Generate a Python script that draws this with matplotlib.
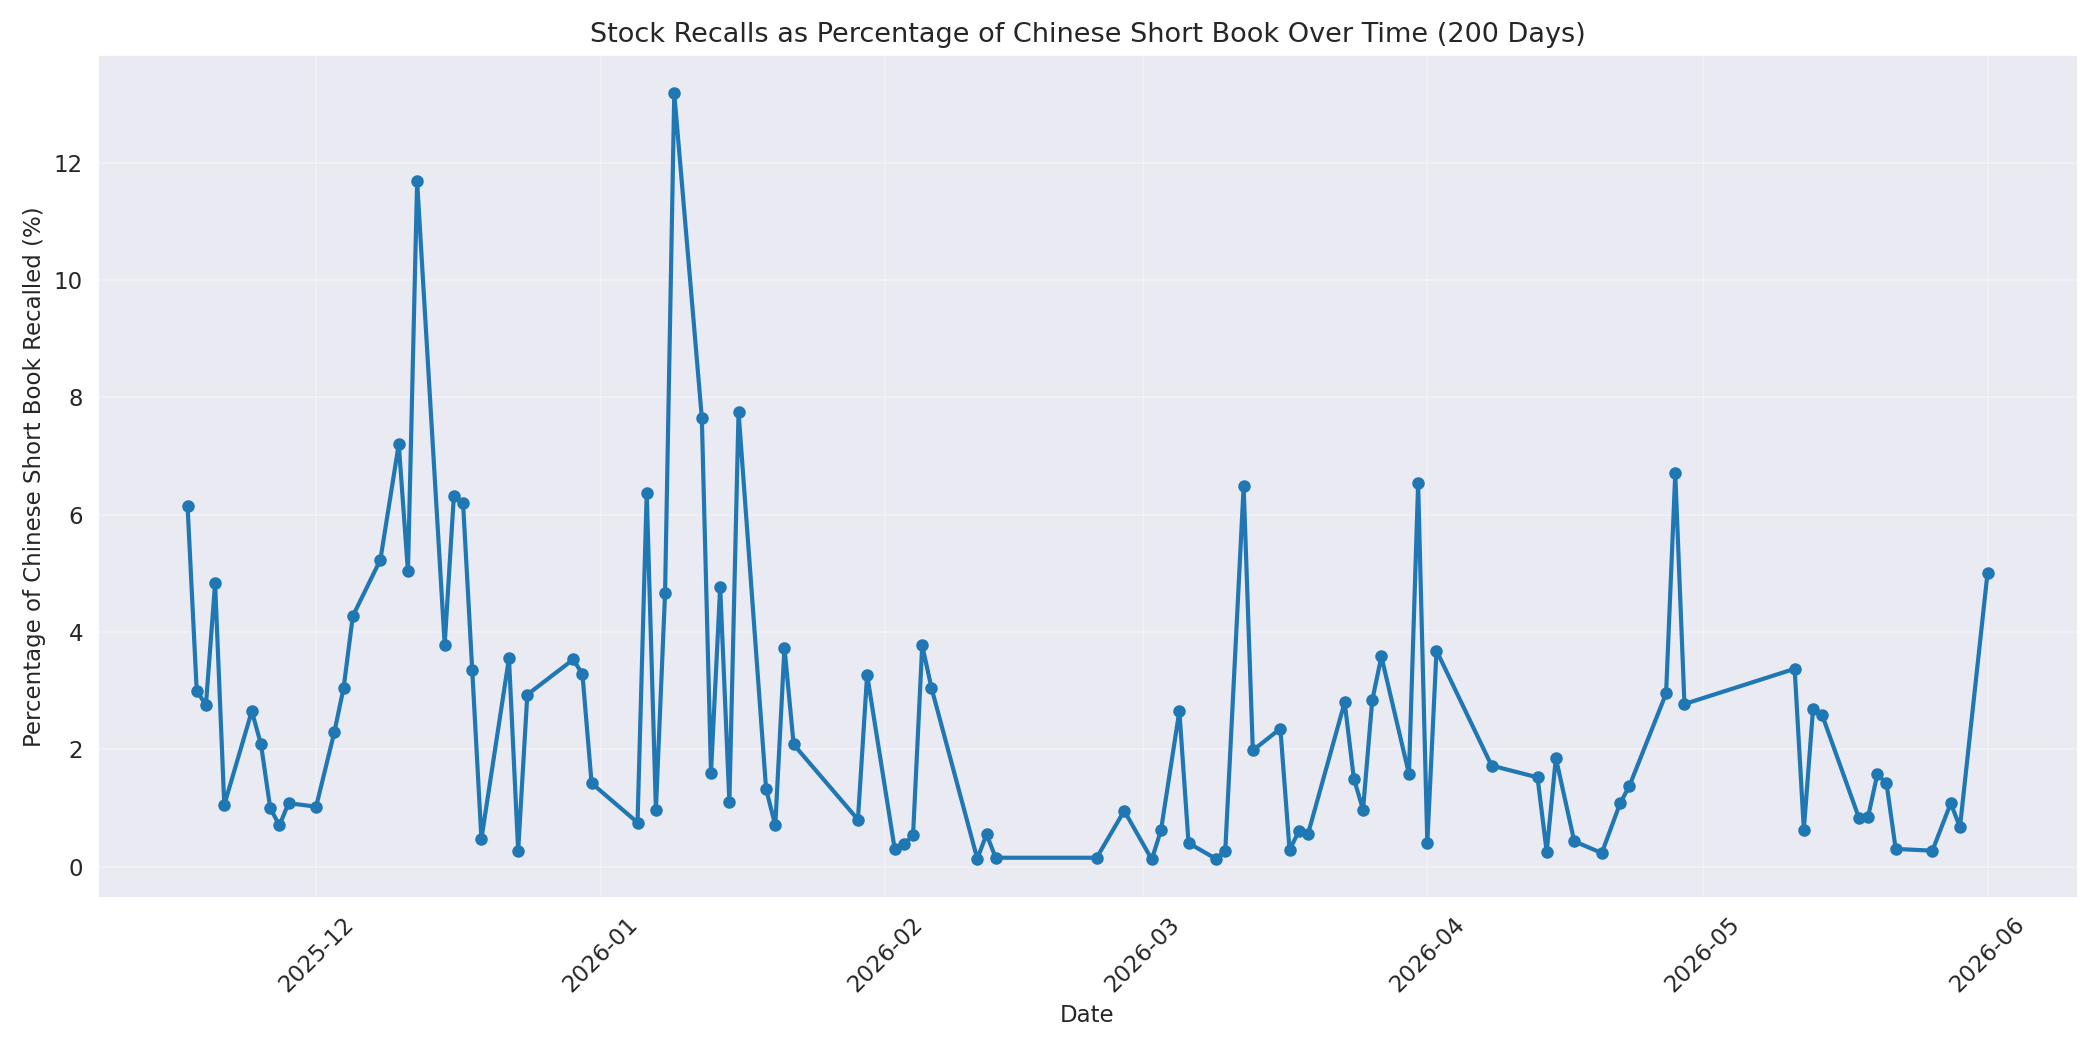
import matplotlib
matplotlib.use("Agg")
import matplotlib.pyplot as plt
import matplotlib.dates as mdates
import seaborn as sns
import pandas as pd

dates = ["2025-11-17","2025-11-18","2025-11-19","2025-11-20","2025-11-21","2025-11-24","2025-11-25","2025-11-26","2025-11-27","2025-11-28",
"2025-12-01","2025-12-03","2025-12-04","2025-12-05","2025-12-08","2025-12-10","2025-12-11","2025-12-12","2025-12-15","2025-12-16",
"2025-12-17","2025-12-18","2025-12-19","2025-12-22","2025-12-23","2025-12-24","2025-12-29","2025-12-30","2025-12-31","2026-01-05",
"2026-01-06","2026-01-07","2026-01-08","2026-01-09","2026-01-12","2026-01-13","2026-01-14","2026-01-15","2026-01-16","2026-01-19",
"2026-01-20","2026-01-21","2026-01-22","2026-01-29","2026-01-30","2026-02-02","2026-02-03","2026-02-04","2026-02-05","2026-02-06",
"2026-02-11","2026-02-12","2026-02-13","2026-02-24","2026-02-27","2026-03-02","2026-03-03","2026-03-05","2026-03-06","2026-03-09",
"2026-03-10","2026-03-12","2026-03-13","2026-03-16","2026-03-17","2026-03-18","2026-03-19","2026-03-23","2026-03-24","2026-03-25",
"2026-03-26","2026-03-27","2026-03-30","2026-03-31","2026-04-01","2026-04-02","2026-04-08","2026-04-13","2026-04-14","2026-04-15",
"2026-04-17","2026-04-20","2026-04-22","2026-04-23","2026-04-27","2026-04-28","2026-04-29","2026-05-11","2026-05-12","2026-05-13",
"2026-05-14","2026-05-18","2026-05-19","2026-05-20","2026-05-21","2026-05-22","2026-05-26","2026-05-28","2026-05-29","2026-06-01"]
values = [6.15,3.0,2.75,4.83,1.05,2.65,2.08,1.0,0.7,1.08,
1.02,2.3,3.05,4.27,5.23,7.2,5.03,11.68,3.78,6.32,
6.2,3.35,0.47,3.55,0.27,2.93,3.53,3.28,1.42,0.75,
6.37,0.97,4.67,13.18,7.65,1.6,4.77,1.1,7.75,1.32,
0.7,3.73,2.08,0.8,3.27,0.3,0.38,0.53,3.77,3.05,
0.13,0.55,0.15,0.15,0.95,0.12,0.62,2.65,0.4,0.13,
0.27,6.48,1.98,2.35,0.28,0.6,0.55,2.8,1.5,0.97,
2.83,3.58,1.58,6.53,0.4,3.68,1.72,1.52,0.25,1.85,
0.43,0.23,1.08,1.37,2.95,6.7,2.77,3.37,0.63,2.68,
2.58,0.83,0.85,1.57,1.42,0.3,0.27,1.08,0.67,5.0]

sns.set_style("darkgrid")
fig, ax = plt.subplots(figsize=(14, 7), dpi=150)
ax.plot(pd.to_datetime(dates), values, color="#1f77b4", linewidth=2, marker="o", markersize=5)
ax.set_title("Stock Recalls as Percentage of Chinese Short Book Over Time (200 Days)", fontsize=13)
ax.set_xlabel("Date", fontsize=11)
ax.set_ylabel("Percentage of Chinese Short Book Recalled (%)", fontsize=11)
ax.grid(True, alpha=0.3)
ax.xaxis.set_major_locator(mdates.MonthLocator())
ax.xaxis.set_major_formatter(mdates.DateFormatter("%Y-%m"))
plt.setp(ax.get_xticklabels(), rotation=45)
ax.tick_params(labelsize=11)
fig.tight_layout()
fig.savefig("out.png")
